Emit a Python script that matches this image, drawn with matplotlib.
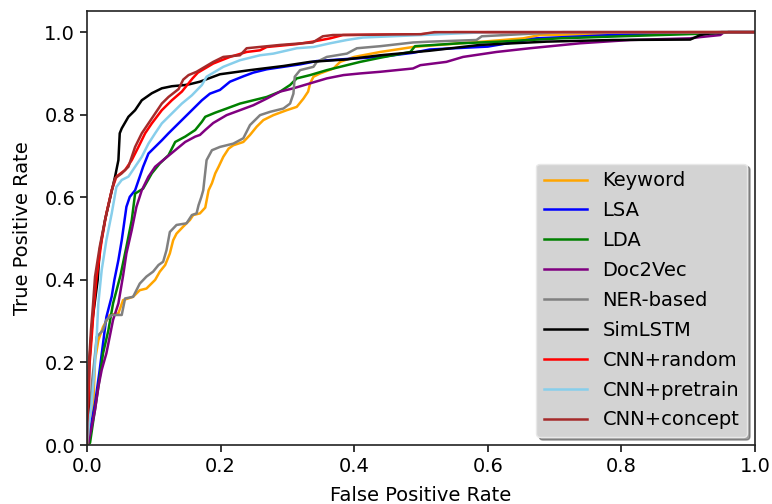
import matplotlib
matplotlib.use("Agg")
import matplotlib.pyplot as plt

labels = ["Keyword", "LSA", "LDA", "Doc2Vec", "NER-based", "SimLSTM",
          "CNN+random", "CNN+pretrain", "CNN+concept"]
colors = ["orange", "blue", "green", "purple", "gray", "black",
          "red", "skyblue", "brown"]

keyword_fpr = [0, 0.004, 0.0095, 0.012, 0.017, 0.024, 0.034, 0.047, 0.054, 0.069, 0.079, 0.089, 0.102, 0.109, 0.117, 0.124, 0.129, 0.134, 0.144, 0.154, 0.159, 0.169, 0.177, 0.182, 0.187, 0.192, 0.197, 0.204, 0.212, 0.219, 0.234, 0.244, 0.254, 0.264, 0.279, 0.299, 0.314, 0.324, 0.331, 0.334, 0.339, 0.349, 0.369, 0.379, 0.40, 0.439, 0.488, 0.55, 0.60, 0.653, 0.678, 0.85, 0.90, 1.0]
keyword_tpr = [0, 0.05, 0.10, 0.206, 0.254, 0.286, 0.315, 0.319, 0.351, 0.359, 0.375, 0.379, 0.400, 0.420, 0.436, 0.464, 0.496, 0.512, 0.529, 0.545, 0.557, 0.561, 0.575, 0.617, 0.634, 0.658, 0.674, 0.698, 0.718, 0.726, 0.734, 0.751, 0.771, 0.787, 0.799, 0.811, 0.819, 0.839, 0.856, 0.876, 0.892, 0.900, 0.912, 0.928, 0.94, 0.952, 0.964, 0.972, 0.978, 0.985, 0.993, 0.997, 1.0, 1.0]

lsa_fpr = [0, 0.0045, 0.012, 0.019, 0.024, 0.029, 0.037, 0.041, 0.047, 0.052, 0.059, 0.064, 0.072, 0.079, 0.084, 0.092, 0.102, 0.112, 0.122, 0.132, 0.147, 0.162, 0.172, 0.184, 0.199, 0.214, 0.234, 0.249, 0.269, 0.294, 0.319, 0.344, 0.389, 0.439, 0.488, 0.513, 0.60, 0.673, 0.787, 0.853, 0.95, 1.0]
lsa_tpr = [0, 0.036, 0.10, 0.182, 0.246, 0.31, 0.36, 0.40, 0.448, 0.496, 0.577, 0.601, 0.617, 0.650, 0.674, 0.706, 0.722, 0.738, 0.755, 0.771, 0.795, 0.819, 0.835, 0.851, 0.860, 0.880, 0.893, 0.902, 0.910, 0.916, 0.922, 0.930, 0.935, 0.940, 0.950, 0.958, 0.965, 0.985, 0.993, 0.997, 1.0, 1.0]

lda_fpr = [0, 0.0045, 0.0095, 0.017, 0.024, 0.032, 0.039, 0.050, 0.059, 0.067, 0.072, 0.084, 0.097, 0.109, 0.122, 0.132, 0.147, 0.162, 0.172, 0.177, 0.192, 0.209, 0.229, 0.249, 0.269, 0.289, 0.304, 0.314, 0.334, 0.359, 0.379, 0.409, 0.439, 0.484, 0.491, 0.558, 0.618, 0.708, 0.80, 0.937, 0.95, 1.0]
lda_tpr = [0, 0.005, 0.06, 0.141, 0.222, 0.278, 0.343, 0.41, 0.480, 0.545, 0.609, 0.621, 0.658, 0.682, 0.702, 0.734, 0.747, 0.763, 0.783, 0.795, 0.805, 0.815, 0.827, 0.835, 0.843, 0.856, 0.872, 0.888, 0.896, 0.908, 0.916, 0.928, 0.938, 0.952, 0.966, 0.973, 0.977, 0.985, 0.99, 0.997, 1.0, 1.0]

doc2vec_fpr = [0, 0.002, 0.007, 0.012, 0.017, 0.022, 0.029, 0.039, 0.047, 0.054, 0.059, 0.067, 0.074, 0.082, 0.092, 0.102, 0.117, 0.132, 0.147, 0.162, 0.169, 0.177, 0.189, 0.209, 0.229, 0.249, 0.269, 0.289, 0.309, 0.334, 0.359, 0.384, 0.409, 0.439, 0.488, 0.499, 0.538, 0.563, 0.613, 0.663, 0.738, 0.813, 0.903, 0.918, 0.948, 0.952, 0.96, 1.0]
doc2vec_tpr = [0, 0.005, 0.044, 0.085, 0.141, 0.182, 0.222, 0.303, 0.343, 0.41, 0.464, 0.521, 0.577, 0.617, 0.650, 0.674, 0.694, 0.714, 0.734, 0.747, 0.751, 0.763, 0.780, 0.799, 0.811, 0.823, 0.839, 0.856, 0.864, 0.876, 0.888, 0.896, 0.900, 0.904, 0.912, 0.920, 0.928, 0.940, 0.952, 0.961, 0.973, 0.981, 0.985, 0.988, 0.993, 0.998, 1.0, 1.0]

ner_fpr = [0, 0.004, 0.008, 0.012, 0.0145, 0.024, 0.029, 0.037, 0.052, 0.057, 0.069, 0.079, 0.089, 0.099, 0.107, 0.114, 0.119, 0.124, 0.134, 0.149, 0.157, 0.164, 0.167, 0.171, 0.174, 0.179, 0.187, 0.199, 0.219, 0.234, 0.244, 0.259, 0.274, 0.294, 0.304, 0.309, 0.311, 0.319, 0.339, 0.344, 0.359, 0.389, 0.404, 0.439, 0.488, 0.513, 0.583, 0.591, 0.65, 0.713, 1.0]
ner_tpr = [0, 0.08, 0.16, 0.22, 0.262, 0.278, 0.303, 0.315, 0.315, 0.355, 0.359, 0.391, 0.408, 0.420, 0.436, 0.444, 0.472, 0.516, 0.533, 0.537, 0.557, 0.561, 0.581, 0.60, 0.617, 0.690, 0.714, 0.722, 0.730, 0.743, 0.775, 0.799, 0.807, 0.815, 0.827, 0.851, 0.892, 0.908, 0.916, 0.928, 0.940, 0.948, 0.961, 0.966, 0.975, 0.977, 0.981, 0.990, 0.995, 1.0, 1.0]

simlstm_fpr = [0, 0.002, 0.003, 0.008, 0.012, 0.016, 0.019, 0.027, 0.042, 0.047, 0.049, 0.052, 0.062, 0.072, 0.082, 0.097, 0.112, 0.127, 0.147, 0.154, 0.169, 0.199, 0.244, 0.294, 0.334, 0.389, 0.439, 0.513, 0.588, 0.688, 0.787, 0.903, 0.918, 0.933, 0.948, 0.96, 1.0]
simlstm_tpr = [0, 0.05, 0.19, 0.30, 0.35, 0.40, 0.472, 0.545, 0.650, 0.690, 0.755, 0.767, 0.795, 0.811, 0.835, 0.852, 0.864, 0.869, 0.872, 0.874, 0.880, 0.898, 0.908, 0.918, 0.928, 0.934, 0.944, 0.955, 0.969, 0.977, 0.981, 0.982, 0.993, 0.997, 0.998, 1.0, 1.0]

cnnrand_fpr = [0, 0.002, 0.004, 0.007, 0.01, 0.0145, 0.022, 0.029, 0.037, 0.044, 0.057, 0.067, 0.077, 0.087, 0.097, 0.112, 0.127, 0.142, 0.150, 0.158, 0.166, 0.189, 0.214, 0.239, 0.259, 0.269, 0.314, 0.338, 0.364, 0.383, 0.5, 0.55, 1.0]
cnnrand_tpr = [0, 0.1, 0.2, 0.26, 0.33, 0.408, 0.496, 0.561, 0.617, 0.650, 0.666, 0.690, 0.722, 0.755, 0.779, 0.811, 0.835, 0.856, 0.872, 0.888, 0.902, 0.924, 0.940, 0.952, 0.956, 0.964, 0.971, 0.977, 0.985, 0.993, 0.995, 1.0, 1.0]

cnnpre_fpr = [0, 0.003, 0.007, 0.011, 0.0145, 0.017, 0.022, 0.029, 0.037, 0.044, 0.052, 0.062, 0.072, 0.082, 0.092, 0.102, 0.112, 0.127, 0.142, 0.157, 0.172, 0.179, 0.204, 0.229, 0.259, 0.279, 0.314, 0.339, 0.364, 0.389, 0.413, 0.428, 0.5, 0.6, 1.0]
cnnpre_tpr = [0, 0.05, 0.10, 0.18, 0.262, 0.344, 0.424, 0.496, 0.561, 0.625, 0.642, 0.650, 0.674, 0.698, 0.730, 0.755, 0.779, 0.803, 0.827, 0.847, 0.872, 0.892, 0.916, 0.932, 0.944, 0.948, 0.961, 0.964, 0.973, 0.981, 0.987, 0.988, 0.993, 1.0, 1.0]

cnncon_fpr = [0, 0.001, 0.003, 0.006, 0.009, 0.012, 0.019, 0.027, 0.037, 0.042, 0.052, 0.062, 0.072, 0.082, 0.092, 0.102, 0.112, 0.122, 0.137, 0.144, 0.152, 0.164, 0.189, 0.204, 0.229, 0.239, 0.289, 0.338, 0.353, 0.368, 0.5, 0.52, 1.0]
cnncon_tpr = [0, 0.1, 0.2, 0.28, 0.34, 0.408, 0.480, 0.545, 0.617, 0.646, 0.658, 0.674, 0.722, 0.755, 0.779, 0.803, 0.827, 0.843, 0.862, 0.885, 0.896, 0.904, 0.928, 0.940, 0.944, 0.961, 0.969, 0.975, 0.990, 0.993, 0.995, 1.0, 1.0]

series = [(keyword_fpr, keyword_tpr), (lsa_fpr, lsa_tpr), (lda_fpr, lda_tpr),
          (doc2vec_fpr, doc2vec_tpr), (ner_fpr, ner_tpr), (simlstm_fpr, simlstm_tpr),
          (cnnrand_fpr, cnnrand_tpr), (cnnpre_fpr, cnnpre_tpr), (cnncon_fpr, cnncon_tpr)]

plt.rcParams['font.family'] = ['DejaVu Sans']
fig = plt.figure(figsize=(7.72, 5.04), dpi=100)
ax = fig.add_axes([0.1127, 0.117, 0.8653, 0.861])

for (fx, ty), lab, col in zip(series, labels, colors):
    ax.plot(fx, ty, color=col, lw=1.8, label=lab)

ax.set_xlim(0, 1)
ax.set_ylim(0, 1.051)
ax.set_xticks([0, 0.2, 0.4, 0.6, 0.8, 1.0])
ax.set_yticks([0, 0.2, 0.4, 0.6, 0.8, 1.0])
ax.tick_params(labelsize=14, width=1.1, length=5)
for s in ax.spines.values():
    s.set_linewidth(1.2)
    s.set_color('#222222')
ax.set_xlabel("False Positive Rate", fontsize=14, labelpad=7)
ax.set_ylabel("True Positive Rate", fontsize=14, labelpad=9)

leg = ax.legend(loc='lower right', fontsize=14, shadow=True, fancybox=True,
                facecolor='#d3d3d3', framealpha=1.0, handlelength=2.2,
                labelspacing=0.56, borderaxespad=0.4)
leg.get_frame().set_edgecolor('#e8e8e8')

fig.savefig("out.png", dpi=100)
